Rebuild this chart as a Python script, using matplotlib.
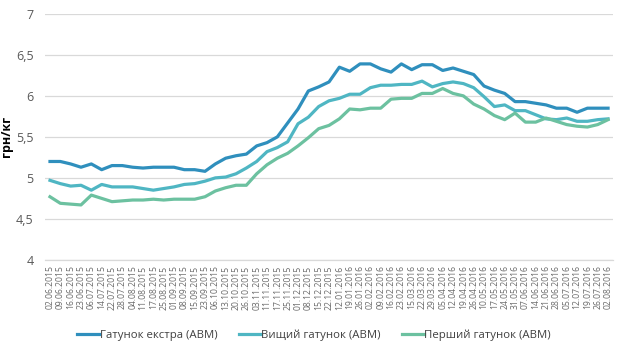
import matplotlib
matplotlib.use("Agg")
import matplotlib.pyplot as plt
from matplotlib.ticker import FuncFormatter

plt.rcParams['font.family'] = ['Open Sans', 'DejaVu Sans']

dates = ["02.06.2015", "09.06.2015", "16.06.2015", "23.06.2015", "06.07.2015", "14.07.2015",
         "22.07.2015", "28.07.2015", "04.08.2015", "11.08.2015", "17.08.2015", "25.08.2015",
         "01.09.2015", "08.09.2015", "15.09.2015", "23.09.2015", "06.10.2015", "13.10.2015",
         "20.10.2015", "26.10.2015", "03.11.2015", "11.11.2015", "17.11.2015", "25.11.2015",
         "01.12.2015", "08.12.2015", "15.12.2015", "22.12.2015", "12.01.2016", "19.01.2016",
         "26.01.2016", "02.02.2016", "09.02.2016", "16.02.2016", "23.02.2016", "15.03.2016",
         "22.03.2016", "29.03.2016", "05.04.2016", "12.04.2016", "19.04.2016", "26.04.2016",
         "10.05.2016", "17.05.2016", "24.05.2016", "31.05.2016", "07.06.2016", "14.06.2016",
         "21.06.2016", "28.06.2016", "05.07.2016", "12.07.2016", "19.07.2016", "26.07.2016",
         "02.08.2016"]

extra = [5.20, 5.20, 5.17, 5.13, 5.17, 5.10, 5.15, 5.15, 5.13, 5.12, 5.13, 5.13, 5.13, 5.10,
         5.10, 5.08, 5.17, 5.24, 5.27, 5.29, 5.39, 5.43, 5.50, 5.67, 5.84, 6.06, 6.11, 6.17,
         6.35, 6.30, 6.39, 6.39, 6.33, 6.29, 6.39, 6.32, 6.38, 6.38, 6.31, 6.34, 6.30, 6.26,
         6.12, 6.07, 6.03, 5.93, 5.93, 5.91, 5.89, 5.85, 5.85, 5.80, 5.85, 5.85, 5.85]

vyshchyi = [4.97, 4.93, 4.90, 4.91, 4.85, 4.92, 4.89, 4.89, 4.89, 4.87, 4.85, 4.87, 4.89, 4.92,
            4.93, 4.96, 5.00, 5.01, 5.05, 5.12, 5.20, 5.32, 5.37, 5.44, 5.66, 5.74, 5.87, 5.94,
            5.97, 6.02, 6.02, 6.10, 6.13, 6.13, 6.14, 6.14, 6.18, 6.11, 6.15, 6.17, 6.15, 6.10,
            5.99, 5.87, 5.89, 5.82, 5.82, 5.77, 5.72, 5.71, 5.73, 5.69, 5.69, 5.71, 5.72]

pershyi = [4.77, 4.69, 4.68, 4.67, 4.79, 4.75, 4.71, 4.72, 4.73, 4.73, 4.74, 4.73, 4.74, 4.74,
           4.74, 4.77, 4.84, 4.88, 4.91, 4.91, 5.05, 5.16, 5.24, 5.30, 5.39, 5.49, 5.60, 5.64,
           5.72, 5.84, 5.83, 5.85, 5.85, 5.96, 5.97, 5.97, 6.03, 6.03, 6.09, 6.03, 6.00, 5.90,
           5.84, 5.76, 5.71, 5.79, 5.68, 5.68, 5.73, 5.69, 5.65, 5.63, 5.62, 5.65, 5.71]

series_names = ["Гатунок екстра (АВМ)", "Вищий гатунок (АВМ)", "Перший гатунок (АВМ)"]
colors = ["#2f8fbd", "#4fb6c3", "#6cc1a0"]

fig = plt.figure(figsize=(6.26, 3.56), dpi=100)
ax = fig.add_axes([0.0716, 0.270, 0.9080, 0.691])

x = list(range(len(dates)))
for vals, name, c in zip([extra, vyshchyi, pershyi], series_names, colors):
    ax.plot(x, vals, color=c, lw=2.3, label=name, solid_joinstyle='round')

ax.set_xlim(-0.5, len(dates) - 0.5)
ax.set_ylim(4, 7)
ax.set_yticks([4, 4.5, 5, 5.5, 6, 6.5, 7])
ax.yaxis.set_major_formatter(FuncFormatter(lambda v, p: ('%g' % v).replace('.', ',')))
ax.grid(axis='y', color='#d9d9d9', lw=0.9)
ax.set_axisbelow(True)
for s in ['top', 'right', 'left']:
    ax.spines[s].set_visible(False)
ax.spines['bottom'].set_color('#d9d9d9')
ax.spines['bottom'].set_linewidth(0.9)

ax.set_xticks(x)
ax.set_xticklabels(dates, rotation=90, fontsize=6.2, color='#6a6a6a')
ax.tick_params(axis='x', length=0, pad=4)
ax.tick_params(axis='y', length=0, labelsize=9, colors='#595959', pad=8)

ax.set_ylabel("грн/кг", fontsize=9, fontweight='bold', color='#000000', labelpad=2)

fig.legend(loc='center', bbox_to_anchor=(0.502, 0.058), ncol=3, frameon=False,
           fontsize=8.2, handlelength=1.9, handletextpad=0.05, columnspacing=1.9,
           labelcolor='#404040')

fig.savefig("out.png", dpi=100)
